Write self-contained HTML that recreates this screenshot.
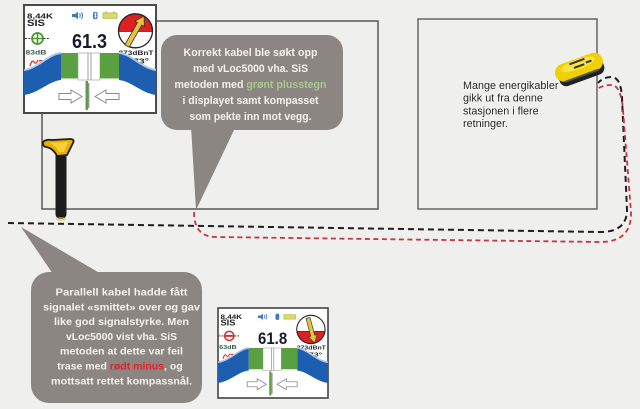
<!DOCTYPE html>
<html><head><meta charset="utf-8"><style>
html,body{margin:0;padding:0;background:#efefed;width:640px;height:409px;overflow:hidden}
svg{display:block;font-family:"Liberation Sans",Arial,sans-serif}
</style></head><body>
<svg width="640" height="409" viewBox="0 0 640 409" xmlns="http://www.w3.org/2000/svg">
<rect width="640" height="409" fill="#efefed"/>

<!-- room walls -->
<path d="M42,113 V209 H378 V21 H156" fill="none" stroke="#585858" stroke-width="1.5"/>
<rect x="418" y="19" width="179" height="190" fill="none" stroke="#666" stroke-width="1.5"/>

<!-- cables -->
<path d="M8,223 L600,232 Q627,232 627,210 L622,98 Q621,78 612,77 Q603,77 598,83" fill="none" stroke="#1e1e1e" stroke-width="2" stroke-dasharray="6 4"/>
<path d="M194,212 Q194,237 216,237 L600,242 Q632,242 631,212 L623,110 Q621,86 612,85 Q603,85 597,89" fill="none" stroke="#c83444" stroke-width="1.8" stroke-dasharray="5 3.5"/>

<!-- bubble 1 -->
<rect x="161" y="35" width="182" height="95" rx="16" fill="#8b8681"/>
<polygon points="191,126 236,126 196,210" fill="#8b8681"/>
<g font-weight="bold" font-size="11" fill="#f5f2ec" text-anchor="middle">
<text x="250.5" y="56" textLength="134" lengthAdjust="spacingAndGlyphs">Korrekt kabel ble søkt opp</text>
<text x="250.5" y="72" textLength="115" lengthAdjust="spacingAndGlyphs">med vLoc5000 vha. SiS</text>
<text x="250.5" y="88" textLength="152" lengthAdjust="spacingAndGlyphs">metoden med <tspan fill="#a9c88c">grønt plusstegn</tspan></text>
<text x="250.5" y="104" textLength="136" lengthAdjust="spacingAndGlyphs">i displayet samt kompasset</text>
<text x="250.5" y="120" textLength="122" lengthAdjust="spacingAndGlyphs">som pekte inn mot vegg.</text>
</g>

<!-- bubble 2 -->
<rect x="31" y="272" width="171" height="131" rx="18" fill="#8b8681"/>
<polygon points="21,227 103,275 55,277" fill="#8b8681"/>
<g font-weight="bold" font-size="10.5" fill="#f5f2ec" text-anchor="middle">
<text x="121.5" y="295.5" textLength="132" lengthAdjust="spacingAndGlyphs">Parallell kabel hadde fått</text>
<text x="121.5" y="310.3" textLength="157" lengthAdjust="spacingAndGlyphs">signalet «smittet» over og gav</text>
<text x="121.5" y="325.1" textLength="135" lengthAdjust="spacingAndGlyphs">like god signalstyrke. Men</text>
<text x="121.5" y="339.9" textLength="111" lengthAdjust="spacingAndGlyphs">vLoc5000 vist vha. SiS</text>
<text x="121.5" y="354.7" textLength="123" lengthAdjust="spacingAndGlyphs">metoden at dette var feil</text>
<text x="120" y="369.5" font-size="10.5">trase med <tspan fill="#ee1c24">rødt minus</tspan>, og</text>
<text x="121.5" y="384.3" textLength="141" lengthAdjust="spacingAndGlyphs">mottsatt rettet kompassnål.</text>
</g>

<!-- right text -->
<g font-size="10.8" fill="#222" stroke="#ffffff" stroke-width="1.5" paint-order="stroke" stroke-opacity="0.6">
<text x="463" y="89">Mange energikabler</text>
<text x="463" y="101.7">gikk ut fra denne</text>
<text x="463" y="114.4">stasjonen i flere</text>
<text x="463" y="127">retninger.</text>
</g>

<!-- locator wand -->
<rect x="55.5" y="150" width="11" height="69" rx="5" fill="#1c1c1c"/>
<ellipse cx="61" cy="219" rx="5" ry="2" fill="#d8c070" opacity="0.6"/>
<path d="M43,142 Q46,139 52,140 L70,139 Q75,139 73,143 L67,155 L57,156 Q53,148 46,147 Q42,146 43,142 Z" fill="#e8b000" stroke="#1a1a1a" stroke-width="1.8"/>
<path d="M50,143 L68,142 L64,152 L59,152 Q56,146 50,143 Z" fill="#f6cf3a"/>

<!-- transmitter -->
<g transform="translate(580,70) rotate(-20)">
<rect x="-23" y="-5" width="47" height="16" rx="7" fill="#222"/>
<rect x="-25" y="-12" width="50" height="18" rx="9" fill="#f0d000"/>
<ellipse cx="0" cy="-6" rx="18" ry="5" fill="#f8e440"/>
<rect x="-8" y="-10" width="16" height="2" fill="#333"/>
<rect x="-5" y="-5" width="11" height="2" fill="#333"/>
<rect x="8" y="-6" width="6" height="2" fill="#333"/>
<rect x="-18" y="5" width="36" height="2" fill="#555"/>
</g>

<!-- display 1 -->
<g transform="translate(24,5)">
<rect x="0" y="0" width="132" height="108" fill="#fff" stroke="#4a4a4a" stroke-width="2"/>
<text x="3" y="13.3" font-size="7.5" font-weight="bold" fill="#222" textLength="26" lengthAdjust="spacingAndGlyphs">8,44K</text>
<text x="3" y="21" font-size="9.5" font-weight="bold" fill="#222" textLength="18" lengthAdjust="spacingAndGlyphs">SIS</text>
<polygon points="48,9 51,9 54,6.7 54,14.3 51,12 48,12" fill="#3a7ac8"/>
<path d="M55.5,8.5 Q57,10.5 55.5,12.5 M57.3,7.3 Q59.8,10.5 57.3,13.7" fill="none" stroke="#3a7ac8" stroke-width="1"/>
<rect x="69" y="6.7" width="4.5" height="7.6" rx="2" fill="#3a7ac8"/>
<path d="M70.3,8.5 L72.3,11.7 L71.3,12.8 V7.8 L72.3,8.8 L70.3,12" fill="none" stroke="#fff" stroke-width="0.6"/>
<rect x="79" y="8" width="14" height="5.3" fill="#d8dc70" stroke="#b0b840" stroke-width="0.8"/>
<rect x="81" y="6.8" width="2" height="1.2" fill="#b0b840"/><rect x="89" y="6.8" width="2" height="1.2" fill="#b0b840"/>
<!-- compass -->
<circle cx="111.5" cy="25.8" r="17" fill="#fff"/>
<path d="M94.51,26.5 A17,17 0 1 1 128.49,26.5 Z" fill="#e02020"/>
<line x1="94.5" y1="26.5" x2="128.5" y2="26.5" stroke="#333" stroke-width="0.8"/>
<path d="M97,31 H126 M99,35 H124" stroke="#f0c8c8" stroke-width="0.6"/>
<circle cx="111.5" cy="25.8" r="17" fill="none" stroke="#222" stroke-width="1.3"/>
<polygon points="105.2,42.2 117.8,20 120.4,21.5 120,11 110.8,16.1 113.4,17.6 100.8,39.8" fill="#e8c33a" stroke="#333" stroke-width="0.8"/>
<!-- crosshair -->
<circle cx="13.5" cy="33.5" r="5.5" fill="none" stroke="#4a9a30" stroke-width="1.8"/>
<path d="M13.5,27 V40 M8,33.5 H19" stroke="#4a9a30" stroke-width="1.6"/>
<path d="M1,33.5 H7.5 M19.5,33.5 H26" stroke="#333" stroke-width="1" stroke-dasharray="2 1.3"/>
<text x="48" y="43" font-size="20" font-weight="bold" fill="#1a1a2e" textLength="35" lengthAdjust="spacingAndGlyphs">61.3</text>
<text x="1.5" y="49.5" font-size="6.5" font-weight="bold" fill="#3d5c4a" textLength="21" lengthAdjust="spacingAndGlyphs">83dB</text>
<path d="M6,61 Q8,54 10,57 Q12,60 14,55 M15,56 Q20,54 19,61" fill="none" stroke="#e03030" stroke-width="1.3"/>
<text x="94.5" y="50" font-size="6.5" font-weight="bold" fill="#2a2a2a" textLength="35" lengthAdjust="spacingAndGlyphs">373dBnT</text>
<text x="109" y="58.5" font-size="7" font-weight="bold" fill="#2a2a2a" textLength="16" lengthAdjust="spacingAndGlyphs">73°</text>
<!-- band -->
<path d="M0,65 C15,63 25,49 37,48" fill="none" stroke="#a8c8ec" stroke-width="2"/>
<path d="M132,65 C117,63 107,49 95,48" fill="none" stroke="#a8c8ec" stroke-width="2"/>
<path d="M0,66 C15,64 25,50 37,49 L37,75 C25,76 15,88 0,90 Z" fill="#1e5eb0"/>
<path d="M95,49 C107,50 117,64 132,66 L132,90 C117,88 107,76 95,75 Z" fill="#1e5eb0"/>
<rect x="37" y="48" width="17" height="25.5" fill="#5ba040"/>
<rect x="54" y="48" width="22" height="27" fill="#fff" stroke="#999" stroke-width="0.6"/>
<path d="M64,48 V75 M67,48 V75" stroke="#888" stroke-width="0.8"/>
<rect x="76" y="48" width="19" height="25.5" fill="#5ba040"/>
<path d="M35,88.5 H47 V85 L58,91.5 L47,98 V94.5 H35 Z" fill="#fff" stroke="#8a8a8a" stroke-width="1"/>
<path d="M95,88.5 H82 V85 L71,91.5 L82,98 V94.5 H95 Z" fill="#fff" stroke="#8a8a8a" stroke-width="1"/>
<rect x="61.5" y="76" width="2.5" height="29" fill="#5ba040"/>
<line x1="64.8" y1="78" x2="64.8" y2="103" stroke="#444" stroke-width="0.8"/>
</g>

<!-- display 2 -->
<g transform="translate(218,308) scale(0.8333)">
<rect x="0" y="0" width="132" height="108" fill="#fff" stroke="#4a4a4a" stroke-width="2"/>
<text x="3" y="13.3" font-size="7.5" font-weight="bold" fill="#222" textLength="26" lengthAdjust="spacingAndGlyphs">8,44K</text>
<text x="3" y="21" font-size="9.5" font-weight="bold" fill="#222" textLength="18" lengthAdjust="spacingAndGlyphs">SIS</text>
<polygon points="48,9 51,9 54,6.7 54,14.3 51,12 48,12" fill="#3a7ac8"/>
<path d="M55.5,8.5 Q57,10.5 55.5,12.5 M57.3,7.3 Q59.8,10.5 57.3,13.7" fill="none" stroke="#3a7ac8" stroke-width="1"/>
<rect x="69" y="6.7" width="4.5" height="7.6" rx="2" fill="#3a7ac8"/>
<rect x="79" y="8" width="14" height="5.3" fill="#d8dc70" stroke="#b0b840" stroke-width="0.8"/>
<circle cx="111.5" cy="25.8" r="17" fill="#fff"/>
<path d="M94.64,28 A17,17 0 0 0 128.36,28 Z" fill="#e02020"/>
<line x1="94.6" y1="28" x2="128.4" y2="28" stroke="#333" stroke-width="0.8"/>
<circle cx="111.5" cy="25.8" r="17" fill="none" stroke="#222" stroke-width="1.3"/>
<polygon points="110.4,11.35 116.1,32.65 119,31.9 116,42 108.4,34.7 111.3,33.95 105.6,12.65" fill="#e8c33a" stroke="#333" stroke-width="0.8"/>
<circle cx="13.5" cy="33.5" r="5.5" fill="none" stroke="#d03030" stroke-width="1.8"/>
<path d="M7,33.5 H20" stroke="#d03030" stroke-width="2.2"/>
<path d="M1,33.5 H7 M20,33.5 H26" stroke="#333" stroke-width="1" stroke-dasharray="2 1.3"/>
<text x="48" y="43" font-size="20" font-weight="bold" fill="#1a1a2e" textLength="35" lengthAdjust="spacingAndGlyphs">61.8</text>
<text x="1.5" y="49.5" font-size="6.5" font-weight="bold" fill="#3d5c4a" textLength="21" lengthAdjust="spacingAndGlyphs">63dB</text>
<path d="M6,61 Q8,54 10,57 Q12,60 14,55 M15,56 Q20,54 19,61" fill="none" stroke="#e03030" stroke-width="1.3"/>
<text x="94.5" y="50" font-size="6.5" font-weight="bold" fill="#2a2a2a" textLength="35" lengthAdjust="spacingAndGlyphs">373dBnT</text>
<text x="109" y="58.5" font-size="7" font-weight="bold" fill="#2a2a2a" textLength="16" lengthAdjust="spacingAndGlyphs">73°</text>
<path d="M0,65 C15,63 25,49 37,48" fill="none" stroke="#a8c8ec" stroke-width="2"/>
<path d="M132,65 C117,63 107,49 95,48" fill="none" stroke="#a8c8ec" stroke-width="2"/>
<path d="M0,66 C15,64 25,50 37,49 L37,75 C25,76 15,88 0,90 Z" fill="#1e5eb0"/>
<path d="M95,49 C107,50 117,64 132,66 L132,90 C117,88 107,76 95,75 Z" fill="#1e5eb0"/>
<rect x="37" y="48" width="17" height="25.5" fill="#5ba040"/>
<rect x="54" y="48" width="22" height="27" fill="#fff" stroke="#999" stroke-width="0.6"/>
<path d="M64,48 V75 M67,48 V75" stroke="#888" stroke-width="0.8"/>
<rect x="76" y="48" width="19" height="25.5" fill="#5ba040"/>
<path d="M35,88.5 H47 V85 L58,91.5 L47,98 V94.5 H35 Z" fill="#fff" stroke="#8a8a8a" stroke-width="1"/>
<path d="M95,88.5 H82 V85 L71,91.5 L82,98 V94.5 H95 Z" fill="#fff" stroke="#8a8a8a" stroke-width="1"/>
<rect x="61.5" y="76" width="2.5" height="29" fill="#5ba040"/>
<line x1="64.8" y1="78" x2="64.8" y2="103" stroke="#444" stroke-width="0.8"/>
</g>
</svg>
</body></html>
